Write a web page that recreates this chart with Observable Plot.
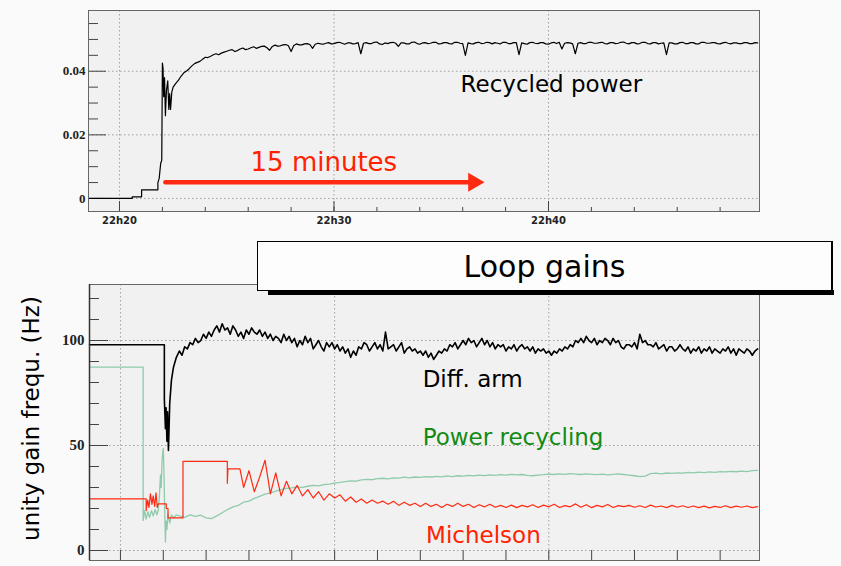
<!DOCTYPE html>
<html>
<head>
<meta charset="utf-8">
<script src="https://cdn.jsdelivr.net/npm/d3@7"></script>
<script src="https://cdn.jsdelivr.net/npm/@observablehq/plot@0.6"></script>
<style>
  html, body { margin: 0; padding: 0; background: #fafafa; }
  #root { position: relative; width: 841px; height: 566px; overflow: hidden; background: #fafafa; font-family: "DejaVu Sans", sans-serif; }
  #topPanel { position: absolute; left: 0; top: 0; }
  #bottomPanel { position: absolute; left: 0; top: 232px; }
  #titleShadow { position: absolute; left: 268px; top: 290px; width: 566px; height: 5px; background: #000; }
  #titleBox { position: absolute; left: 257px; top: 241px; width: 573px; height: 46px; padding-top: 2px; background: #fdfdfd; border: 1.5px solid #000; border-right-width: 2.5px; text-align: center; font-size: 30px; line-height: 46px; color: #000; }
  #yLabel { position: absolute; left: -99px; top: 405px; width: 260px; height: 27px; line-height: 27px; text-align: center; font-size: 23px; color: #000; transform: rotate(-90deg); transform-origin: 130px 13.5px; white-space: nowrap; }
</style>
</head>
<body>
<div id="root">
  <div id="topPanel"></div>
  <div id="bottomPanel"></div>
  <div id="titleShadow"></div>
  <div id="titleBox">Loop gains</div>
  <div id="yLabel">unity gain frequ. (Hz)</div>
</div>
<script>
// ---------- time axis (minutes after 22h00) ----------
const xDomain = [18.555, 49.837];
const majorTimeTicks = [20, 30, 40];
const minorTimeTicks = [20, 22, 24, 26, 28, 30, 32, 34, 36, 38, 40, 42, 44, 46, 48];
const timeLabel = m => `22h${m}`;

// ---------- top panel: recycled power ----------
const powerTicksMajor = [0, 0.02, 0.04];
const powerTicksMinor = [0.005, 0.01, 0.015, 0.025, 0.03, 0.035, 0.045, 0.05, 0.055];
const powerLock = [
  [18.555, 0], [20.59, 0], [20.59, 0.0005], [21.03, 0.0005], [21.03, 0.0027], [21.79, 0.0027],
  [21.79, 0.005], [21.85, 0.0063], [21.92, 0.011], [21.97, 0.012], [22.0, 0.0426], [22.03, 0.041],
  [22.06, 0.032], [22.1, 0.038], [22.14, 0.026], [22.19, 0.034], [22.25, 0.037], [22.3, 0.028],
  [22.34, 0.033], [22.38, 0.028], [22.44, 0.0335]
];
const fineStep = 0.125;
const coarseStep = 0.25;
const powerTraceStart = 22.5;
const powerTrace = [
  0.0350, 0.0362, 0.0372, 0.0385, 0.0395, 0.0401, 0.0408, 0.0417,
  0.0424, 0.0428, 0.0431, 0.0438, 0.0444, 0.0443, 0.0447, 0.0452,
  0.0455, 0.0452, 0.0457, 0.0460, 0.0463, 0.0466, 0.0468, 0.0462,
  0.0465, 0.0470, 0.0473, 0.0468, 0.0470, 0.0474, 0.0477, 0.0472,
  0.0475, 0.0478, 0.0479, 0.0474, 0.0466, 0.0478, 0.0482, 0.0479,
  0.0480, 0.0483, 0.0484, 0.0480, 0.0462, 0.0481, 0.0486, 0.0483,
  0.0483, 0.0486, 0.0487, 0.0484, 0.0472, 0.0485, 0.0488, 0.0486,
  0.0485, 0.0488, 0.0490, 0.0486, 0.0487, 0.0490, 0.0491, 0.0488,
  0.0485, 0.0489, 0.0489, 0.0486, 0.0487, 0.0490, 0.0455, 0.0488,
  0.0490, 0.0487, 0.0487, 0.0491, 0.0492, 0.0486, 0.0484, 0.0489,
  0.0487, 0.0490, 0.0491, 0.0488, 0.0478, 0.0489, 0.0489, 0.0486,
  0.0486, 0.0491, 0.0492, 0.0487, 0.0485, 0.0489, 0.0490, 0.0487,
  0.0488, 0.0491, 0.0491, 0.0486, 0.0487, 0.0490, 0.0490, 0.0487,
  0.0486, 0.0491, 0.0491, 0.0488, 0.0487, 0.0450, 0.0489, 0.0487,
  0.0486, 0.0490, 0.0491, 0.0487, 0.0488, 0.0491, 0.0490, 0.0486,
  0.0490, 0.0488, 0.0486, 0.0491, 0.0491, 0.0487, 0.0487, 0.0490,
  0.0490, 0.0452, 0.0489, 0.0487, 0.0485, 0.0490, 0.0491, 0.0488,
  0.0487, 0.0490, 0.0490, 0.0486, 0.0485, 0.0489, 0.0491, 0.0487,
  0.0491, 0.0470, 0.0488, 0.0490, 0.0489, 0.0486, 0.0455, 0.0488,
  0.0490, 0.0487, 0.0487, 0.0491, 0.0491, 0.0488, 0.0488, 0.0490,
  0.0491, 0.0487, 0.0486, 0.0490, 0.0490, 0.0487, 0.0488, 0.0491,
  0.0492, 0.0488, 0.0486, 0.0490, 0.0490, 0.0486, 0.0487, 0.0491,
  0.0491, 0.0487, 0.0486, 0.0490, 0.0490, 0.0486, 0.0488, 0.0489,
  0.0452, 0.0489, 0.0489, 0.0486, 0.0486, 0.0490, 0.0491, 0.0487,
  0.0487, 0.0490, 0.0490, 0.0486, 0.0486, 0.0491, 0.0491, 0.0488,
  0.0488, 0.0490, 0.0490, 0.0487, 0.0486, 0.0489, 0.0491, 0.0488,
  0.0486, 0.0489, 0.0489, 0.0487, 0.0487, 0.0490, 0.0490, 0.0487,
  0.0487, 0.0490, 0.0489
];
const topNotes = [
  {label: "Recycled power", t: 35.90, v: 0.0357, color: "#000000", size: 23},
  {label: "15 minutes", t: 26.11, v: 0.0114, color: "#ff2200", size: 26}
];
const arrowShaft = [{t: 22.14, v: 0.0051}, {t: 36.4, v: 0.0051}];
const arrowHead = [{t: 36.51, v: 0.0051}];

// ---------- bottom panel: loop gains (Hz) ----------
const gainTicksMajor = [0, 50, 100];
const gainTicksMinor = [10, 20, 30, 40, 60, 70, 80, 90, 110, 120];
const diffLock = [
  [18.555, 98], [22.05, 98], [22.05, 72], [22.1, 58], [22.13, 68], [22.17, 52], [22.2, 66],
  [22.24, 47.6], [22.28, 62], [22.3, 70], [22.38, 81], [22.47, 87], [22.61, 92]
];
const diffTraceStart = 22.75;
const diffTrace = [
  95, 93, 97, 96, 99, 98, 101, 99,
  100, 103, 101, 104, 102, 105, 107, 104,
  108, 105, 106, 103, 107, 105, 102, 104,
  101, 105, 103, 106, 104, 103, 105, 102,
  104, 101, 103, 100, 102, 101, 99, 103,
  100, 102, 99, 101, 97, 100, 98, 102,
  99, 101, 96, 98, 100, 97, 95, 99,
  97, 99, 96, 98, 95, 97, 94, 96,
  92, 95, 93, 97, 96, 99, 98, 95,
  97, 99, 96, 98, 95, 104, 96, 97,
  98, 95, 97, 99, 94, 96, 97, 95,
  96, 94, 95, 93, 95, 92, 94, 91,
  93, 95, 94, 96, 95, 98, 97, 99,
  96, 98, 100, 98, 101, 99, 100, 97,
  99, 101, 98, 100, 97, 99, 96, 98,
  97, 98, 95, 97, 96, 98, 95, 97,
  98, 96, 97, 95, 97, 94, 96, 95,
  96, 94, 95, 93, 95, 94, 96, 95,
  97, 96, 98, 97, 100, 99, 101, 99,
  102, 100, 99, 101, 98, 100, 99, 101,
  100, 98, 101, 99, 100, 97, 96, 98,
  98, 97, 99, 96, 103, 99, 100, 98,
  98, 97, 99, 96, 97, 98, 95, 97,
  97, 95, 96, 98, 96, 95, 97, 94,
  96, 95, 97, 94, 96, 95, 97, 94,
  96, 95, 94, 96, 95, 97, 94, 96,
  93, 96, 95, 94, 96, 95, 93, 95,
  96
];
const prcLock = [
  [18.555, 87.3], [21.06, 87.3], [21.06, 14.3], [21.12, 19], [21.2, 15], [21.28, 18.5], [21.36, 15.8],
  [21.45, 19], [21.53, 16.5], [21.62, 19.5], [21.7, 17], [21.76, 19], [21.82, 26], [21.87, 36],
  [21.9, 30], [21.95, 44], [22.0, 48.6], [22.03, 38], [22.06, 22], [22.1, 4], [22.13, 14],
  [22.17, 10], [22.22, 17.6], [22.3, 13], [22.38, 17], [22.5, 15.5], [22.6, 17]
];
const prcTraceStart = 22.75;
const prcTrace = [
  16.5, 15.8, 17.0, 16.2, 16.8, 15.5, 15.2, 16.5, 18.0, 19.5,
  20.8, 21.5, 23.0, 23.5, 24.8, 25.8, 26.8, 27.5, 28.3, 29.0,
  29.6, 29.8, 30.3, 30.1, 30.6, 31.0, 30.8, 31.4, 31.6, 32.1,
  32.4, 32.8, 33.2, 33.0, 33.6, 33.9, 33.7, 34.2, 34.4, 34.1,
  34.6, 34.5, 34.9, 34.6, 35.0, 34.8, 35.2, 35.0, 35.3, 35.1,
  35.5, 35.2, 35.6, 35.4, 35.8, 35.5, 35.9, 35.7, 36.0, 35.8,
  36.1, 35.9, 36.3, 36.0, 36.2, 35.8, 35.6, 35.9, 36.1, 36.4,
  36.2, 36.5, 36.3, 36.6, 36.4, 36.2, 36.5, 36.3, 36.1, 36.4,
  36.0, 36.3, 36.5, 36.2, 35.9, 35.6, 35.2, 35.4, 36.6, 36.8,
  36.5, 36.9, 36.7, 37.0, 36.8, 37.2, 37.0, 37.3, 37.1, 37.4,
  37.2, 37.6, 37.4, 37.7, 37.5, 37.8, 37.6, 38.0, 38.2
];
const michLock = [
  [18.555, 24.6], [21.2, 24.6], [21.2, 19], [21.27, 24], [21.33, 20.5], [21.4, 27], [21.47, 22],
  [21.53, 26], [21.6, 21], [21.66, 27.5], [21.72, 20.5], [21.76, 22.2], [22.14, 22.2], [22.14, 20],
  [22.22, 20], [22.22, 15.5], [22.92, 15.5], [22.92, 42.4], [24.99, 42.4], [24.99, 32],
  [25.02, 38.9], [25.58, 38.9]
];
const michTraceStart = 25.75;
const michTrace = [
  30, 38, 28, 35, 43, 27, 37, 26, 33, 27,
  31, 26, 29, 25, 28, 24, 27, 25, 26.5, 23.5,
  25.5, 23, 24.5, 22.5, 24, 22.5, 23.5, 22, 23.5, 21.5,
  23, 21.5, 22.5, 21, 22.5, 21, 22, 20.5, 22, 21,
  22.5, 21, 22, 20.5, 21.8, 20.8, 22, 20.6, 21.5, 20.5,
  21.6, 20.4, 21.5, 20.8, 21.8, 20.5, 21.6, 20.8, 22, 20.5,
  21.4, 20.8, 22.2, 20.6, 21.8, 20.4, 21.5, 20.8, 21.9, 20.5,
  21.4, 20.9, 21.5, 20.6, 21.3, 20.5, 21.6, 20.7, 21.2, 20.4,
  21.5, 20.6, 21.3, 20.5, 21.2, 20.4, 21.1, 20.3, 21.0, 20.5,
  21.3, 20.4, 21.1, 20.6, 21.2, 20.4, 20.9
];
const bottomNotes = [
  {label: "Diff. arm", t: 34.11, v: 81.3, color: "#000000"},
  {label: "Power recycling", t: 34.11, v: 53.9, color: "#138a13"},
  {label: "Michelson", t: 34.27, v: 7.0, color: "#ff2200"}
];

// ---------- assemble ----------
const build = (lock, start, step, trace) => [
  ...lock.map(([t, v]) => ({t, v})),
  ...trace.map((v, i) => ({t: start + i * step, v}))
];
const powerSeries = build(powerLock, powerTraceStart, fineStep, powerTrace);
const diffSeries = build(diffLock, diffTraceStart, fineStep, diffTrace);
const prcSeries = build(prcLock, prcTraceStart, coarseStep, prcTrace);
const michSeries = build(michLock, michTraceStart, coarseStep, michTrace);

const gridStyle = {stroke: "#a0a0a0", strokeOpacity: 1, strokeDasharray: "1.5,2.5", strokeWidth: 1};
const tickColor = "#444";
const serifBold = {fontFamily: "Liberation Serif, serif", fontWeight: "bold"};
const noLabel = {label: null};

const topChart = Plot.plot({
  width: 841, height: 232,
  marginLeft: 88, marginRight: 82, marginTop: 10, marginBottom: 21,
  style: {background: "transparent", fontFamily: "DejaVu Sans"},
  x: {domain: xDomain},
  y: {domain: [-0.0041, 0.0591]},
  marks: [
    Plot.frame({fill: "#f1f1f1", stroke: null}),
    Plot.gridX(majorTimeTicks, gridStyle),
    Plot.gridY(powerTicksMajor, gridStyle),
    Plot.axisX(minorTimeTicks, {...noLabel, tickSize: -4, tickFormat: () => "", stroke: tickColor}),
    Plot.axisX(majorTimeTicks, {...noLabel, tickSize: -10, tickFormat: () => "", stroke: tickColor}),
    Plot.axisX(majorTimeTicks, {...noLabel, tickSize: 0, tickPadding: 5, tickFormat: timeLabel, fontFamily: "DejaVu Sans", fontWeight: "bold", fontSize: 10, fill: "#222"}),
    Plot.axisY(powerTicksMinor, {...noLabel, tickSize: -10, tickFormat: () => "", stroke: tickColor}),
    Plot.axisY(powerTicksMajor, {...noLabel, tickSize: -18, tickFormat: () => "", stroke: tickColor}),
    Plot.axisY(powerTicksMajor, {...noLabel, tickSize: 0, tickPadding: 3, tickFormat: d => d === 0 ? "0" : d3.format(".2f")(d), ...serifBold, fontSize: 13, fill: "#222"}),
    Plot.line(powerSeries, {x: "t", y: "v", stroke: "#000", strokeWidth: 1.2}),
    Plot.line(arrowShaft, {x: "t", y: "v", stroke: "#ff2a12", strokeWidth: 4.5}),
    Plot.dot(arrowHead, {x: "t", y: "v", symbol: "triangle", rotate: 90, r: 7, fill: "#ff2a12", stroke: null}),
    Plot.text(topNotes.slice(0, 1), {x: "t", y: "v", text: "label", fill: "color", fontSize: 23, textAnchor: "start", lineAnchor: "middle", fontFamily: "DejaVu Sans"}),
    Plot.text(topNotes.slice(1), {x: "t", y: "v", text: "label", fill: "color", fontSize: 26, textAnchor: "start", lineAnchor: "middle", fontFamily: "DejaVu Sans"}),
    Plot.frame({stroke: "#666", strokeWidth: 1})
  ]
});
document.getElementById("topPanel").appendChild(topChart);

const bottomChart = Plot.plot({
  width: 841, height: 334,
  marginLeft: 89, marginRight: 82, marginTop: 52, marginBottom: 6,
  style: {background: "transparent", fontFamily: "DejaVu Sans"},
  x: {domain: xDomain},
  y: {domain: [-4.76, 126.67]},
  marks: [
    Plot.frame({fill: "#f1f1f1", stroke: null}),
    Plot.gridX(majorTimeTicks, gridStyle),
    Plot.gridY(gainTicksMajor, gridStyle),
    Plot.axisX(minorTimeTicks, {...noLabel, tickSize: -10, tickFormat: () => "", stroke: tickColor}),
    Plot.axisY(gainTicksMinor, {...noLabel, tickSize: -10, tickFormat: () => "", stroke: tickColor}),
    Plot.axisY(gainTicksMajor, {...noLabel, tickSize: -19, tickFormat: () => "", stroke: tickColor}),
    Plot.axisY(gainTicksMajor, {...noLabel, tickSize: 0, tickPadding: 5, tickFormat: d => String(d), ...serifBold, fontSize: 15, fill: "#222"}),
    Plot.line(prcSeries, {x: "t", y: "v", stroke: "#8fcbaa", strokeWidth: 1.3}),
    Plot.line(michSeries, {x: "t", y: "v", stroke: "#ff2a12", strokeWidth: 1.2}),
    Plot.line(diffSeries, {x: "t", y: "v", stroke: "#000", strokeWidth: 1.6}),
    Plot.text(bottomNotes, {x: "t", y: "v", text: "label", fill: "color", fontSize: 23, textAnchor: "start", lineAnchor: "middle", fontFamily: "DejaVu Sans"}),
    Plot.frame({stroke: "#666", strokeWidth: 1}),
    Plot.ruleX([xDomain[0]], {stroke: "#333", strokeWidth: 1.5})
  ]
});
document.getElementById("bottomPanel").appendChild(bottomChart);
</script>
</body>
</html>
